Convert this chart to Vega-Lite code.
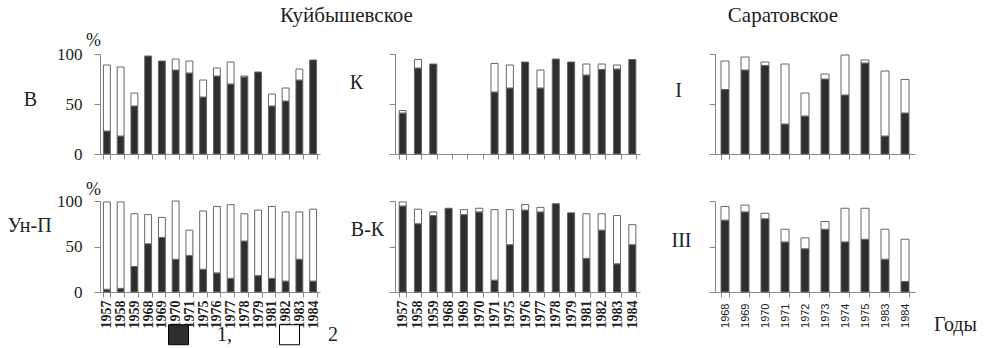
{
"$schema": "https://vega.github.io/schema/vega-lite/v6.json",
"background": "white",
"padding": {"left": 6, "top": 4, "right": 0, "bottom": 0},
"bounds": "flush",
"align": "each",
"columns": 3,
"spacing": {"row": 47, "column": 75},
"config": {
 "view": {"stroke": null},
 "axis": {"domainColor": "#888", "tickColor": "#888", "labelColor": "#222", "labelFont": "Liberation Serif", "titleFont": "Liberation Serif", "titleColor": "#222", "grid": false, "titleFontWeight": "normal"},
 "title": {"fontWeight": "normal", "font": "Liberation Serif", "color": "#222"},
 "bar": {"stroke": "#666", "strokeWidth": 1}
},
"data": {"values": [
{"p":"B","y":"1957","s":"1","v":23},{"p":"B","y":"1957","s":"2","v":66},
{"p":"B","y":"1958","s":"1","v":18},{"p":"B","y":"1958","s":"2","v":69},
{"p":"B","y":"1959","s":"1","v":48},{"p":"B","y":"1959","s":"2","v":13},
{"p":"B","y":"1968","s":"1","v":98},
{"p":"B","y":"1969","s":"1","v":93},
{"p":"B","y":"1970","s":"1","v":84},{"p":"B","y":"1970","s":"2","v":11},
{"p":"B","y":"1971","s":"1","v":81},{"p":"B","y":"1971","s":"2","v":12},
{"p":"B","y":"1975","s":"1","v":57},{"p":"B","y":"1975","s":"2","v":17},
{"p":"B","y":"1976","s":"1","v":78},{"p":"B","y":"1976","s":"2","v":8},
{"p":"B","y":"1977","s":"1","v":70},{"p":"B","y":"1977","s":"2","v":22},
{"p":"B","y":"1978","s":"1","v":77},{"p":"B","y":"1978","s":"2","v":1},
{"p":"B","y":"1979","s":"1","v":82},
{"p":"B","y":"1981","s":"1","v":48},{"p":"B","y":"1981","s":"2","v":12},
{"p":"B","y":"1982","s":"1","v":53},{"p":"B","y":"1982","s":"2","v":13},
{"p":"B","y":"1983","s":"1","v":74},{"p":"B","y":"1983","s":"2","v":11},
{"p":"B","y":"1984","s":"1","v":94},
{"p":"U","y":"1957","s":"1","v":3},{"p":"U","y":"1957","s":"2","v":96},
{"p":"U","y":"1958","s":"1","v":4},{"p":"U","y":"1958","s":"2","v":95},
{"p":"U","y":"1959","s":"1","v":28},{"p":"U","y":"1959","s":"2","v":58},
{"p":"U","y":"1968","s":"1","v":53},{"p":"U","y":"1968","s":"2","v":32},
{"p":"U","y":"1969","s":"1","v":60},{"p":"U","y":"1969","s":"2","v":22},
{"p":"U","y":"1970","s":"1","v":36},{"p":"U","y":"1970","s":"2","v":64},
{"p":"U","y":"1971","s":"1","v":40},{"p":"U","y":"1971","s":"2","v":28},
{"p":"U","y":"1975","s":"1","v":25},{"p":"U","y":"1975","s":"2","v":64},
{"p":"U","y":"1976","s":"1","v":21},{"p":"U","y":"1976","s":"2","v":73},
{"p":"U","y":"1977","s":"1","v":15},{"p":"U","y":"1977","s":"2","v":81},
{"p":"U","y":"1978","s":"1","v":56},{"p":"U","y":"1978","s":"2","v":30},
{"p":"U","y":"1979","s":"1","v":18},{"p":"U","y":"1979","s":"2","v":72},
{"p":"U","y":"1981","s":"1","v":15},{"p":"U","y":"1981","s":"2","v":79},
{"p":"U","y":"1982","s":"1","v":12},{"p":"U","y":"1982","s":"2","v":76},
{"p":"U","y":"1983","s":"1","v":36},{"p":"U","y":"1983","s":"2","v":52},
{"p":"U","y":"1984","s":"1","v":12},{"p":"U","y":"1984","s":"2","v":79},
{"p":"K","y":"1957","s":"1","v":41},{"p":"K","y":"1957","s":"2","v":2.5},
{"p":"K","y":"1958","s":"1","v":86},{"p":"K","y":"1958","s":"2","v":8.5},
{"p":"K","y":"1959","s":"1","v":90},
{"p":"K","y":"1971","s":"1","v":62},{"p":"K","y":"1971","s":"2","v":28.5},
{"p":"K","y":"1975","s":"1","v":66},{"p":"K","y":"1975","s":"2","v":23},
{"p":"K","y":"1976","s":"1","v":92},
{"p":"K","y":"1977","s":"1","v":66},{"p":"K","y":"1977","s":"2","v":18},
{"p":"K","y":"1978","s":"1","v":95},
{"p":"K","y":"1979","s":"1","v":92},
{"p":"K","y":"1981","s":"1","v":79},{"p":"K","y":"1981","s":"2","v":11},
{"p":"K","y":"1982","s":"1","v":84.5},{"p":"K","y":"1982","s":"2","v":5.5},
{"p":"K","y":"1983","s":"1","v":85},{"p":"K","y":"1983","s":"2","v":4},
{"p":"K","y":"1984","s":"1","v":94.5},
{"p":"VK","y":"1957","s":"1","v":94.5},{"p":"VK","y":"1957","s":"2","v":4.5},
{"p":"VK","y":"1958","s":"1","v":75},{"p":"VK","y":"1958","s":"2","v":16},
{"p":"VK","y":"1959","s":"1","v":84},{"p":"VK","y":"1959","s":"2","v":4},
{"p":"VK","y":"1968","s":"1","v":92},
{"p":"VK","y":"1969","s":"1","v":85},{"p":"VK","y":"1969","s":"2","v":5.5},
{"p":"VK","y":"1970","s":"1","v":88},{"p":"VK","y":"1970","s":"2","v":4},
{"p":"VK","y":"1971","s":"1","v":13},{"p":"VK","y":"1971","s":"2","v":77.5},
{"p":"VK","y":"1975","s":"1","v":52},{"p":"VK","y":"1975","s":"2","v":38.5},
{"p":"VK","y":"1976","s":"1","v":90},{"p":"VK","y":"1976","s":"2","v":6},
{"p":"VK","y":"1977","s":"1","v":88},{"p":"VK","y":"1977","s":"2","v":5},
{"p":"VK","y":"1978","s":"1","v":97},
{"p":"VK","y":"1979","s":"1","v":87},
{"p":"VK","y":"1981","s":"1","v":37},{"p":"VK","y":"1981","s":"2","v":49},
{"p":"VK","y":"1982","s":"1","v":68},{"p":"VK","y":"1982","s":"2","v":18},
{"p":"VK","y":"1983","s":"1","v":31},{"p":"VK","y":"1983","s":"2","v":53},
{"p":"VK","y":"1984","s":"1","v":52},{"p":"VK","y":"1984","s":"2","v":22},
{"p":"I","y":"1968","s":"1","v":64.5},{"p":"I","y":"1968","s":"2","v":28.5},
{"p":"I","y":"1969","s":"1","v":84},{"p":"I","y":"1969","s":"2","v":13},
{"p":"I","y":"1970","s":"1","v":88.6},{"p":"I","y":"1970","s":"2","v":3.4},
{"p":"I","y":"1971","s":"1","v":30},{"p":"I","y":"1971","s":"2","v":60},
{"p":"I","y":"1972","s":"1","v":38},{"p":"I","y":"1972","s":"2","v":23},
{"p":"I","y":"1973","s":"1","v":75},{"p":"I","y":"1973","s":"2","v":5},
{"p":"I","y":"1974","s":"1","v":59},{"p":"I","y":"1974","s":"2","v":40},
{"p":"I","y":"1975","s":"1","v":91},{"p":"I","y":"1975","s":"2","v":3},
{"p":"I","y":"1983","s":"1","v":18},{"p":"I","y":"1983","s":"2","v":65},
{"p":"I","y":"1984","s":"1","v":41},{"p":"I","y":"1984","s":"2","v":33.5},
{"p":"III","y":"1968","s":"1","v":79},{"p":"III","y":"1968","s":"2","v":15},
{"p":"III","y":"1969","s":"1","v":88},{"p":"III","y":"1969","s":"2","v":7.5},
{"p":"III","y":"1970","s":"1","v":80.5},{"p":"III","y":"1970","s":"2","v":6},
{"p":"III","y":"1971","s":"1","v":55},{"p":"III","y":"1971","s":"2","v":14},
{"p":"III","y":"1972","s":"1","v":47.5},{"p":"III","y":"1972","s":"2","v":12},
{"p":"III","y":"1973","s":"1","v":69},{"p":"III","y":"1973","s":"2","v":8.5},
{"p":"III","y":"1974","s":"1","v":55},{"p":"III","y":"1974","s":"2","v":37},
{"p":"III","y":"1975","s":"1","v":58},{"p":"III","y":"1975","s":"2","v":34},
{"p":"III","y":"1983","s":"1","v":36},{"p":"III","y":"1983","s":"2","v":33},
{"p":"III","y":"1984","s":"1","v":11.6},{"p":"III","y":"1984","s":"2","v":46.4}
]},
"concat": [
{
 "width": 220, "height": 100,
 "title": {"text": "%", "anchor": "start", "frame": "group", "dx": -14, "offset": -5, "fontSize": 18},
 "transform": [{"filter": "datum.p == 'B'"}],
 "mark": "bar",
 "encoding": {
  "x": {"field": "y", "type": "nominal", "sort": null, "scale": {"domain": ["1957","1958","1959","1968","1969","1970","1971","1975","1976","1977","1978","1979","1981","1982","1983","1984"], "paddingInner": 0.5, "paddingOuter": 0.25}, "axis": {"labels": false, "title": null, "tickBand": "extent", "tickSize": 5}},
  "y": {"field": "v", "type": "quantitative", "stack": "zero", "scale": {"domain": [0, 100], "nice": false}, "axis": {"values": [0, 50, 100], "tickSize": 6, "labelPadding": 12, "labelFontSize": 17, "title": "В", "titleAngle": 0, "titleX": -70, "titleY": 45, "titleAlign": "center", "titleBaseline": "middle", "titleFontSize": 20}},
  "order": {"field": "s", "type": "nominal", "sort": "ascending"},
  "color": {"field": "s", "type": "nominal", "scale": {"domain": ["1", "2"], "range": ["#2e2e2e", "#ffffff"]}, "legend": {"orient": "none", "legendX": 68, "legendY": 270, "direction": "horizontal", "title": null, "symbolType": "square", "symbolSize": 400, "symbolStrokeColor": "#000", "symbolStrokeWidth": 1, "labelFont": "Liberation Serif", "labelFontSize": 20, "labelColor": "#222", "labelOffset": 28, "columnPadding": 45, "padding": 0, "labelExpr": "datum.label == '1' ? '1,' : '2'"}}
 }
},
{
 "width": 245, "height": 100,
 "title": {"text": "Куйбышевское", "anchor": "middle", "frame": "group", "dx": -171, "offset": 28, "fontSize": 21},
 "transform": [{"filter": "datum.p == 'K'"}],
 "mark": "bar",
 "encoding": {
  "x": {"field": "y", "type": "nominal", "sort": null, "scale": {"domain": ["1957","1958","1959","1968","1969","1970","1971","1975","1976","1977","1978","1979","1981","1982","1983","1984"], "paddingInner": 0.54, "paddingOuter": 0.27}, "axis": {"labels": false, "title": null, "tickBand": "extent", "tickSize": 5}},
  "y": {"field": "v", "type": "quantitative", "stack": "zero", "scale": {"domain": [0, 100], "nice": false}, "axis": {"values": [0, 50, 100], "tickSize": 6, "labels": false, "title": "К", "titleAngle": 0, "titleX": -39, "titleY": 28, "titleAlign": "center", "titleBaseline": "middle", "titleFontSize": 20}},
  "order": {"field": "s", "type": "nominal", "sort": "ascending"},
  "color": {"field": "s", "type": "nominal", "scale": {"domain": ["1", "2"], "range": ["#2e2e2e", "#ffffff"]}, "legend": {"orient": "none", "legendX": 68, "legendY": 270, "direction": "horizontal", "title": null, "symbolType": "square", "symbolSize": 400, "symbolStrokeColor": "#000", "symbolStrokeWidth": 1, "labelFont": "Liberation Serif", "labelFontSize": 20, "labelColor": "#222", "labelOffset": 28, "columnPadding": 45, "padding": 0, "labelExpr": "datum.label == '1' ? '1,' : '2'"}}
 }
},
{
 "width": 200, "height": 100,
 "title": {"text": "Саратовское", "anchor": "middle", "frame": "group", "dx": -32, "offset": 28, "fontSize": 21},
 "transform": [{"filter": "datum.p == 'I'"}],
 "mark": "bar",
 "encoding": {
  "x": {"field": "y", "type": "nominal", "sort": null, "scale": {"domain": ["1968","1969","1970","1971","1972","1973","1974","1975","1983","1984"], "paddingInner": 0.6, "paddingOuter": 0.3}, "axis": {"labels": false, "title": null, "tickBand": "extent", "tickSize": 5}},
  "y": {"field": "v", "type": "quantitative", "stack": "zero", "scale": {"domain": [0, 100], "nice": false}, "axis": {"values": [0, 50, 100], "tickSize": 6, "labels": false, "title": "I", "titleAngle": 0, "titleX": -37, "titleY": 36, "titleAlign": "center", "titleBaseline": "middle", "titleFontSize": 20}},
  "order": {"field": "s", "type": "nominal", "sort": "ascending"},
  "color": {"field": "s", "type": "nominal", "scale": {"domain": ["1", "2"], "range": ["#2e2e2e", "#ffffff"]}, "legend": {"orient": "none", "legendX": 68, "legendY": 270, "direction": "horizontal", "title": null, "symbolType": "square", "symbolSize": 400, "symbolStrokeColor": "#000", "symbolStrokeWidth": 1, "labelFont": "Liberation Serif", "labelFontSize": 20, "labelColor": "#222", "labelOffset": 28, "columnPadding": 45, "padding": 0, "labelExpr": "datum.label == '1' ? '1,' : '2'"}}
 }
},
{
 "width": 220, "height": 91,
 "title": {"text": "%", "anchor": "start", "frame": "group", "dx": -14, "offset": -7, "fontSize": 18},
 "transform": [{"filter": "datum.p == 'U'"}],
 "mark": "bar",
 "encoding": {
  "x": {"field": "y", "type": "nominal", "sort": null, "scale": {"domain": ["1957","1958","1959","1968","1969","1970","1971","1975","1976","1977","1978","1979","1981","1982","1983","1984"], "paddingInner": 0.5, "paddingOuter": 0.25}, "axis": {"labelAngle": -90, "labelFontSize": 14, "labelFontWeight": "bold", "labelOverlap": false, "labelPadding": 3, "title": null, "tickBand": "extent", "tickSize": 5}},
  "y": {"field": "v", "type": "quantitative", "stack": "zero", "scale": {"domain": [0, 100], "nice": false}, "axis": {"values": [0, 50, 100], "tickSize": 6, "labelPadding": 12, "labelFontSize": 17, "title": "Ун-П", "titleAngle": 0, "titleX": -71, "titleY": 24, "titleAlign": "center", "titleBaseline": "middle", "titleFontSize": 20}},
  "order": {"field": "s", "type": "nominal", "sort": "ascending"},
  "color": {"field": "s", "type": "nominal", "scale": {"domain": ["1", "2"], "range": ["#2e2e2e", "#ffffff"]}, "legend": {"orient": "none", "legendX": 68, "legendY": 270, "direction": "horizontal", "title": null, "symbolType": "square", "symbolSize": 400, "symbolStrokeColor": "#000", "symbolStrokeWidth": 1, "labelFont": "Liberation Serif", "labelFontSize": 20, "labelColor": "#222", "labelOffset": 28, "columnPadding": 45, "padding": 0, "labelExpr": "datum.label == '1' ? '1,' : '2'"}}
 }
},
{
 "width": 245, "height": 91,
 "transform": [{"filter": "datum.p == 'VK'"}],
 "mark": "bar",
 "encoding": {
  "x": {"field": "y", "type": "nominal", "sort": null, "scale": {"domain": ["1957","1958","1959","1968","1969","1970","1971","1975","1976","1977","1978","1979","1981","1982","1983","1984"], "paddingInner": 0.54, "paddingOuter": 0.27}, "axis": {"labelAngle": -90, "labelFontSize": 14, "labelFontWeight": "bold", "labelOverlap": false, "labelPadding": 3, "title": null, "tickBand": "extent", "tickSize": 5}},
  "y": {"field": "v", "type": "quantitative", "stack": "zero", "scale": {"domain": [0, 100], "nice": false}, "axis": {"values": [0, 50, 100], "tickSize": 6, "labels": false, "title": "В-К", "titleAngle": 0, "titleX": -28, "titleY": 28, "titleAlign": "center", "titleBaseline": "middle", "titleFontSize": 20}},
  "order": {"field": "s", "type": "nominal", "sort": "ascending"},
  "color": {"field": "s", "type": "nominal", "scale": {"domain": ["1", "2"], "range": ["#2e2e2e", "#ffffff"]}, "legend": {"orient": "none", "legendX": 68, "legendY": 270, "direction": "horizontal", "title": null, "symbolType": "square", "symbolSize": 400, "symbolStrokeColor": "#000", "symbolStrokeWidth": 1, "labelFont": "Liberation Serif", "labelFontSize": 20, "labelColor": "#222", "labelOffset": 28, "columnPadding": 45, "padding": 0, "labelExpr": "datum.label == '1' ? '1,' : '2'"}}
 }
},
{
 "width": 200, "height": 91,
 "transform": [{"filter": "datum.p == 'III'"}],
 "mark": "bar",
 "encoding": {
  "x": {"field": "y", "type": "nominal", "sort": null, "scale": {"domain": ["1968","1969","1970","1971","1972","1973","1974","1975","1983","1984"], "paddingInner": 0.6, "paddingOuter": 0.3}, "axis": {"labelAngle": -90, "labelFont": "Liberation Sans", "labelFontSize": 11, "labelOverlap": false, "labelPadding": 6, "title": "Годы", "titleX": 240, "titleY": 32, "titleAngle": 0, "titleAlign": "center", "titleBaseline": "middle", "titleFontSize": 20, "tickBand": "extent", "tickSize": 5}},
  "y": {"field": "v", "type": "quantitative", "stack": "zero", "scale": {"domain": [0, 100], "nice": false}, "axis": {"values": [0, 50, 100], "tickSize": 6, "labels": false, "title": "III", "titleAngle": 0, "titleX": -34, "titleY": 39, "titleAlign": "center", "titleBaseline": "middle", "titleFontSize": 20}},
  "order": {"field": "s", "type": "nominal", "sort": "ascending"},
  "color": {"field": "s", "type": "nominal", "scale": {"domain": ["1", "2"], "range": ["#2e2e2e", "#ffffff"]}, "legend": {"orient": "none", "legendX": 68, "legendY": 270, "direction": "horizontal", "title": null, "symbolType": "square", "symbolSize": 400, "symbolStrokeColor": "#000", "symbolStrokeWidth": 1, "labelFont": "Liberation Serif", "labelFontSize": 20, "labelColor": "#222", "labelOffset": 28, "columnPadding": 45, "padding": 0, "labelExpr": "datum.label == '1' ? '1,' : '2'"}}
 }
}
]
}
